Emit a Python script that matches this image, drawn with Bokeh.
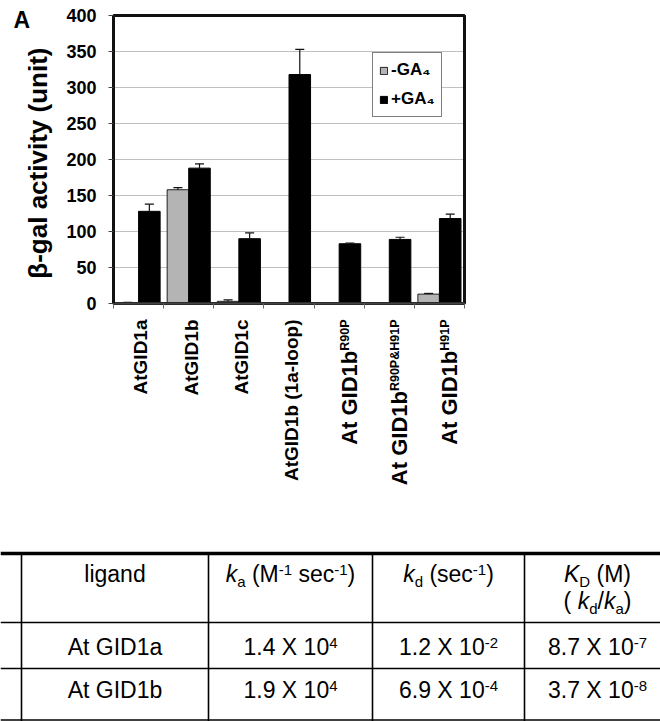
import numpy as np
from math import pi
from bokeh.plotting import figure
from bokeh.models import (ColumnDataSource, Range1d, FixedTicker, Label, Legend,
                          LegendItem, LinearAxis)
from bokeh.core.properties import value
from bokeh.embed import file_html
from bokeh.resources import INLINE

# ---------------- data ----------------
categories = ["AtGID1a", "AtGID1b", "AtGID1c", "AtGID1b (1a-loop)",
              "At GID1b", "At GID1b", "At GID1b"]
superscripts = ["", "", "", "", "R90P", "R90P&H91P", "H91P"]
minus_ga4 = [1.0, 158, 3, 0.8, 1.0, 0.8, 13]
minus_err = [0.5, 3, 2, 0.0, 0.0, 0.0, 1]
plus_ga4 = [128, 188, 90, 318, 83, 89, 118]
plus_err = [10, 6, 8, 35, 1, 3, 6]
series_names = ["-GA\u2084", "+GA\u2084"]
y_ticks = [0, 50, 100, 150, 200, 250, 300, 350, 400]
y_label = "\u03b2-gal activity  (unit)"
panel_letter = "A"

table_ligands = ["At GID1a", "At GID1b"]
ka_mant = ["1.4", "1.9"]
ka_exp = ["4", "4"]
kd_mant = ["1.2", "6.9"]
kd_exp = ["-2", "-4"]
KD_mant = ["8.7", "3.7"]
KD_exp = ["-7", "-8"]

FONT = "Liberation Sans"

# Arial-like advance widths (per 1000 em) for placing sub/superscripts
AR = {' ': 278, '(': 333, ')': 333, '-': 333, '.': 278, '/': 278, 'A': 667, 'D': 722,
      'G': 778, 'I': 278, 'K': 667, 'M': 833, 'X': 667, 'a': 556, 'b': 556, 'c': 500,
      'd': 556, 'e': 556, 'g': 556, 'i': 222, 'k': 500, 'l': 222, 'n': 556, 's': 500, 't': 278}
AB = {' ': 278, '(': 333, ')': 333, '-': 333, '&': 722, 'A': 722, 'D': 722, 'G': 778,
      'H': 722, 'I': 278, 'P': 667, 'R': 722, 'a': 556, 'b': 611, 'c': 556, 'l': 278,
      'o': 611, 'p': 611, 't': 333}


def tw(s, size, table):
    return sum(table.get(c, 556) for c in s) * size / 1000.0


def bfix(size):
    # baseline correction observed for rendered text (px, along text "down")
    return 0.35 * size


# ---------------- geometry (picture pixels) ----------------
W, H = 660, 721
OX, OY = 0, 0                 # picture position of the canvas
AX_L, AX_R = 113, 464         # chart frame left / right
AX_T, AX_B = 15, 303          # chart frame top (400) / bottom (0)
YMAX = 400
ncat = len(categories)
catw = (AX_R - AX_L) / ncat
upp = YMAX / (AX_B - AX_T)    # data units per pixel

x_start = (OX - AX_L) / catw
x_end = (OX + W - AX_L) / catw
y_start = -(OY + H - AX_B) * upp
y_end = YMAX + (AX_T - OY) * upp

p = figure(width=W, height=H, x_range=Range1d(x_start, x_end),
           y_range=Range1d(y_start, y_end), min_border=0,
           x_axis_location=None, y_axis_location=None,
           output_backend="svg", toolbar_location=None)
p.extra_x_ranges = {"px": Range1d(OX, OX + W)}
p.extra_y_ranges = {"py": Range1d(OY + H, OY)}
p.outline_line_color = None
p.grid.visible = False

# dotted horizontal gridlines inside the chart box
p.segment(x0=[0] * (len(y_ticks) - 2), y0=y_ticks[1:-1], x1=[ncat] * (len(y_ticks) - 2),
          y1=y_ticks[1:-1], line_color="#808080", line_dash="1 1", line_width=1)

idx = np.arange(ncat)
bw = 0.43
cap = 0.09
xm = idx + 0.5 - bw / 2
xp = idx + 0.5 + bw / 2
src = ColumnDataSource(dict(
    xm=xm, xp=xp, xm0=xm - cap, xm1=xm + cap, xp0=xp - cap, xp1=xp + cap,
    minus=minus_ga4, plus=plus_ga4,
    minus_top=np.array(minus_ga4) + np.array(minus_err),
    plus_top=np.array(plus_ga4) + np.array(plus_err),
))

rm = p.vbar(x="xm", top="minus", width=bw, source=src, fill_color="#b4b4b4",
            line_color="#222222", line_width=1)
rp = p.vbar(x="xp", top="plus", width=bw, source=src, fill_color="black",
            line_color="black", line_width=1)
for a, b0, b1, t0 in (("xm", "xm0", "xm1", "minus"), ("xp", "xp0", "xp1", "plus")):
    p.segment(x0=a, y0=t0, x1=a, y1=t0 + "_top", source=src, line_color="#111111",
              line_width=1.2)
    p.segment(x0=b0, y0=t0 + "_top", x1=b1, y1=t0 + "_top", source=src,
              line_color="#111111", line_width=1.2)

# chart box (top / right border)
p.quad(left=[0], right=[ncat], bottom=[0], top=[YMAX], fill_color=None,
       line_color="#111111", line_width=3)

legend = Legend(items=[LegendItem(label=series_names[0], renderers=[rm]),
                       LegendItem(label=series_names[1], renderers=[rp])],
                location=(372 - OX, OY + H - 117), orientation="vertical",
                glyph_width=9, glyph_height=9, label_standoff=3, spacing=7,
                padding=6, margin=0, label_height=22,
                label_text_font=FONT, label_text_font_size="17px",
                label_text_font_style="bold", label_text_color="black",
                border_line_color="black", border_line_width=1.5,
                background_fill_color="white", background_fill_alpha=1.0)
p.add_layout(legend)

yax = LinearAxis(fixed_location=0, bounds=(0, YMAX), ticker=FixedTicker(ticks=y_ticks),
                 axis_label=y_label)
yax.major_label_text_font = FONT
yax.major_label_text_font_size = "18px"
yax.major_label_text_font_style = "bold"
yax.major_label_text_color = "black"
yax.major_tick_out = 5
yax.major_tick_in = 0
yax.major_label_standoff = 12
yax.minor_tick_line_color = None
yax.axis_line_width = 3
yax.axis_line_color = "#111111"
yax.major_tick_line_color = "#444444"
yax.axis_label_text_font = FONT
yax.axis_label_text_font_size = "26px"
yax.axis_label_text_font_style = "bold"
yax.axis_label_text_color = "black"
yax.axis_label_standoff = 10
p.add_layout(yax, "left")

xax = LinearAxis(fixed_location=0, bounds=(0, ncat),
                 ticker=FixedTicker(ticks=[], minor_ticks=list(range(ncat + 1))))
xax.minor_tick_out = 5
xax.minor_tick_in = 0
xax.minor_tick_line_color = "#666666"
xax.major_tick_line_color = None
xax.axis_line_color = "#444444"
xax.axis_line_width = 2
p.add_layout(xax, "below")

# category labels (rotated, top-aligned just below the axis)
y_top = -16 * upp
for i, (name, sup) in enumerate(zip(categories, superscripts)):
    if sup:
        ssz, msz = 12.5, 22
        p.add_layout(Label(x=i + 0.5, y=y_top, text=sup, angle=pi / 2,
                           text_align="right", text_baseline="alphabetic",
                           x_offset=10 - bfix(ssz),
                           text_font=FONT, text_font_size=f"{ssz}px",
                           text_font_style="bold", text_color="black"))
        p.add_layout(Label(x=i + 0.5, y=y_top - tw(sup, ssz, AB) * upp, text=name,
                           angle=pi / 2, text_align="right", text_baseline="alphabetic",
                           x_offset=18 - bfix(msz), text_font=FONT,
                           text_font_size=f"{msz}px",
                           text_font_style="bold", text_color="black"))
    else:
        psz = 19
        p.add_layout(Label(x=i + 0.5, y=y_top, text=name, angle=pi / 2,
                           text_align="right", text_baseline="alphabetic",
                           x_offset=9 - bfix(psz),
                           text_font=FONT, text_font_size=f"{psz}px",
                           text_font_style="bold", text_color="black"))

# panel letter
asz = 23
p.add_layout(Label(x=(13 - AX_L) / catw, y=YMAX - (13 - bfix(asz)) * upp, text=panel_letter,
                   text_align="left", text_baseline="alphabetic", text_font=FONT,
                   text_font_size=f"{asz}px", text_font_style="bold", text_color="black"))

# ---------------- table (picture-pixel coordinates) ----------------
R = dict(x_range_name="px", y_range_name="py")
p.segment(x0=[0], y0=[553], x1=[670], y1=[553], line_color="black", line_width=3.5, **R)
p.segment(x0=[0, 0, 0], y0=[622, 668, 719.5], x1=[670, 670, 670], y1=[622, 668, 719.5],
          line_color="black", line_width=1.6, **R)
vx = [21, 208, 372, 524]
p.segment(x0=vx, y0=[553] * 4, x1=vx, y1=[722] * 4, line_color="black", line_width=1.6, **R)

col_cx = [114.5, 290, 448, 597]
BASE = 23.0
SMALL = 15.0
runs = []  # (x, y, text, size, style)


def place(cx, y, parts):
    total = 0.0
    for txt, kind in parts:
        total += tw(txt, SMALL if kind in ("sub", "sup") else BASE, AR)
    x = cx - total / 2
    for txt, kind in parts:
        size = SMALL if kind in ("sub", "sup") else BASE
        dy = -7 if kind == "sup" else (4 if kind == "sub" else 0)
        style = "italic" if kind == "i" else "normal"
        lead = len(txt) - len(txt.lstrip(" "))
        x += tw(" " * lead, size, AR)
        body = txt.strip(" ")
        if body:
            runs.append((x, y + dy - bfix(size), body, size, style))
        x += tw(txt[lead:], size, AR)


hb = 582
place(col_cx[0], hb, [("ligand", "n")])
place(col_cx[1], hb, [("k", "i"), ("a", "sub"), (" (M", "n"), ("-1", "sup"),
                      (" sec", "n"), ("-1", "sup"), (")", "n")])
place(col_cx[2], hb, [("k", "i"), ("d", "sub"), (" (sec", "n"), ("-1", "sup"), (")", "n")])
place(col_cx[3], hb, [("K", "i"), ("D", "sub"), (" (M)", "n")])
place(col_cx[3], 609, [("( ", "n"), ("k", "i"), ("d", "sub"), ("/", "n"),
                       ("k", "i"), ("a", "sub"), (")", "n")])
row_base = [655, 698]
for r in range(len(table_ligands)):
    yb = row_base[r]
    place(col_cx[0], yb, [(table_ligands[r], "n")])
    place(col_cx[1], yb, [(f"{ka_mant[r]} X 10", "n"), (ka_exp[r], "sup")])
    place(col_cx[2], yb, [(f"{kd_mant[r]} X 10", "n"), (kd_exp[r], "sup")])
    place(col_cx[3], yb, [(f"{KD_mant[r]} X 10", "n"), (KD_exp[r], "sup")])

groups = {}
for x, y, txt, size, style in runs:
    groups.setdefault((size, style), []).append((x, y, txt))
for (size, style), items in groups.items():
    p.text(x=[a[0] for a in items], y=[a[1] for a in items], text=[a[2] for a in items],
           text_font=value(FONT), text_font_size=value(f"{size}px"),
           text_font_style=style, text_align="left", text_baseline="alphabetic",
           text_color="black", **R)

open("out.html", "w").write(file_html(p, INLINE))
